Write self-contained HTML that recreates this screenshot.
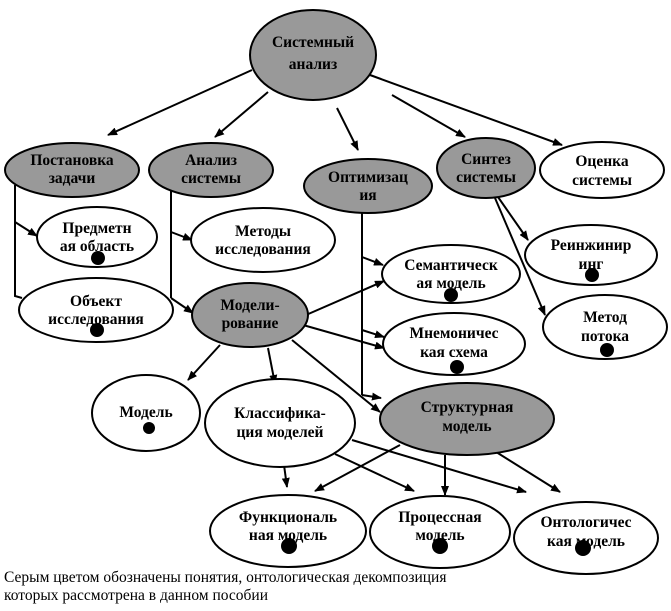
<!DOCTYPE html>
<html><head><meta charset="utf-8"><style>
html,body{margin:0;padding:0;background:#fff;}
svg{display:block;}
text{font-family:"Liberation Serif","DejaVu Serif",serif;font-size:15.5px;font-weight:bold;text-anchor:middle;fill:#000;}
.c{font-weight:normal;text-anchor:start;font-size:15.5px;}
</style></head><body>
<svg width="671" height="611" viewBox="0 0 671 611" xmlns="http://www.w3.org/2000/svg">
<defs><marker id="a" markerWidth="10" markerHeight="8" refX="9" refY="4" orient="auto" markerUnits="userSpaceOnUse"><path d="M0,0L10,4L0,8z" fill="#000"/></marker></defs>
<g stroke="#000" stroke-width="2" fill="none">
<line x1="252" y1="70" x2="108" y2="135" marker-end="url(#a)"/>
<line x1="268" y1="92" x2="215" y2="137" marker-end="url(#a)"/>
<line x1="337" y1="108" x2="358" y2="150" marker-end="url(#a)"/>
<line x1="392" y1="95" x2="465" y2="137" marker-end="url(#a)"/>
<line x1="370" y1="75" x2="562" y2="145" marker-end="url(#a)"/>
<polyline points="15,185 15,296 22,298"/>
<line x1="15" y1="222" x2="37" y2="236" marker-end="url(#a)"/>
<polyline points="171,190 171,298"/>
<line x1="171" y1="298" x2="193" y2="313" marker-end="url(#a)"/>
<line x1="171" y1="232" x2="192" y2="240" marker-end="url(#a)"/>
<polyline points="362,213 362,395"/>
<line x1="362" y1="395" x2="381" y2="398" marker-end="url(#a)"/>
<line x1="362" y1="257" x2="383" y2="265" marker-end="url(#a)"/>
<line x1="362" y1="330" x2="384" y2="337" marker-end="url(#a)"/>
<line x1="498" y1="197" x2="528" y2="240" marker-end="url(#a)"/>
<line x1="495" y1="198" x2="545" y2="315" marker-end="url(#a)"/>
<line x1="306" y1="315" x2="384" y2="281" marker-end="url(#a)"/>
<line x1="303" y1="325" x2="384" y2="348" marker-end="url(#a)"/>
<line x1="292" y1="340" x2="380" y2="412" marker-end="url(#a)"/>
<line x1="220" y1="345" x2="188" y2="380" marker-end="url(#a)"/>
<line x1="268" y1="348" x2="275" y2="384" marker-end="url(#a)"/>
<line x1="284" y1="465" x2="287" y2="487" marker-end="url(#a)"/>
<line x1="335" y1="454" x2="414" y2="491" marker-end="url(#a)"/>
<line x1="352" y1="440" x2="526" y2="492" marker-end="url(#a)"/>
<line x1="400" y1="445" x2="315" y2="491" marker-end="url(#a)"/>
<line x1="445" y1="455" x2="445" y2="495" marker-end="url(#a)"/>
<line x1="485" y1="445" x2="560" y2="492" marker-end="url(#a)"/>
</g>
<g stroke="#000" stroke-width="2">
<ellipse cx="313" cy="55" rx="63" ry="45" fill="#999"/>
<ellipse cx="72" cy="170" rx="67" ry="27" fill="#999"/>
<ellipse cx="211" cy="170" rx="62" ry="27" fill="#999"/>
<ellipse cx="368" cy="186" rx="64" ry="27" fill="#999"/>
<ellipse cx="486" cy="168" rx="49" ry="30" fill="#999"/>
<ellipse cx="602" cy="170" rx="62" ry="28" fill="#fff"/>
<ellipse cx="97" cy="237" rx="60" ry="30" fill="#fff"/>
<ellipse cx="263" cy="240" rx="72" ry="32" fill="#fff"/>
<ellipse cx="96" cy="310" rx="77" ry="32" fill="#fff"/>
<ellipse cx="250" cy="315" rx="58" ry="32" fill="#999"/>
<ellipse cx="451" cy="274" rx="69" ry="29" fill="#fff"/>
<ellipse cx="454" cy="344" rx="71" ry="31" fill="#fff"/>
<ellipse cx="591" cy="255" rx="66" ry="30" fill="#fff"/>
<ellipse cx="605" cy="327" rx="62" ry="32" fill="#fff"/>
<ellipse cx="467" cy="419" rx="87" ry="36" fill="#999"/>
<ellipse cx="146" cy="413" rx="54" ry="38" fill="#fff"/>
<ellipse cx="280" cy="423" rx="75" ry="44" fill="#fff"/>
<ellipse cx="288" cy="531" rx="78" ry="36" fill="#fff"/>
<ellipse cx="440" cy="532" rx="70" ry="36" fill="#fff"/>
<ellipse cx="586" cy="538" rx="72" ry="36" fill="#fff"/>
</g>
<g>
<text x="313" y="47">Системный</text><text x="313" y="69">анализ</text>
<text x="72" y="165">Постановка</text><text x="72" y="183">задачи</text>
<text x="211" y="165">Анализ</text><text x="211" y="183">системы</text>
<text x="368" y="182">Оптимизац</text><text x="368" y="200">ия</text>
<text x="486" y="164">Синтез</text><text x="486" y="182">системы</text>
<text x="602" y="166">Оценка</text><text x="602" y="185">системы</text>
<text x="97" y="233">Предметн</text><text x="97" y="251">ая область</text>
<text x="263" y="236">Методы</text><text x="263" y="254">исследования</text>
<text x="96" y="306">Объект</text><text x="96" y="324">исследования</text>
<text x="250" y="310">Модели-</text><text x="250" y="328">рование</text>
<text x="451" y="270">Семантическ</text><text x="451" y="288">ая модель</text>
<text x="454" y="338">Мнемоничес</text><text x="454" y="357">кая схема</text>
<text x="591" y="250">Реинжинир</text><text x="591" y="269">инг</text>
<text x="605" y="322">Метод</text><text x="605" y="341">потока</text>
<text x="467" y="412">Структурная</text><text x="467" y="431">модель</text>
<text x="146" y="417">Модель</text>
<text x="280" y="418">Классифика-</text><text x="280" y="437">ция моделей</text>
<text x="288" y="522">Функциональ</text><text x="288" y="540">ная модель</text>
<text x="440" y="522">Процессная</text><text x="440" y="540">модель</text>
<text x="586" y="527">Онтологичес</text><text x="586" y="546">кая модель</text>
</g>
<g fill="#000">
<circle cx="98" cy="258" r="7"/><circle cx="97" cy="330" r="7"/>
<circle cx="451" cy="295" r="7"/><circle cx="457" cy="367" r="7"/>
<circle cx="592" cy="275" r="7"/><circle cx="607" cy="350" r="7"/>
<circle cx="149" cy="428" r="6"/><circle cx="289" cy="546" r="8"/>
<circle cx="440" cy="546" r="8"/><circle cx="583" cy="548" r="8"/>
</g>
<text class="c" x="4" y="582">Серым цветом обозначены понятия, онтологическая декомпозиция</text>
<text class="c" x="4" y="600">которых рассмотрена в данном пособии</text>
</svg>
</body></html>
